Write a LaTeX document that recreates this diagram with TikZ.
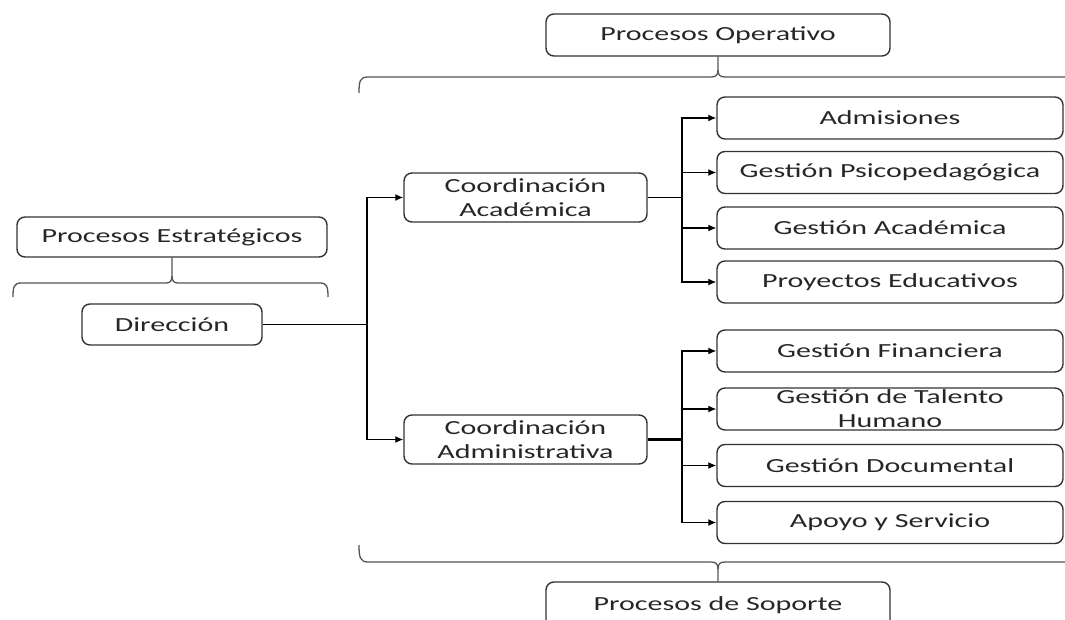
\documentclass[tikz,border=0pt]{standalone}
\usepackage{fontspec}
\setmainfont{Carlito}[FakeStretch=1.5]
\usetikzlibrary{arrows.meta}
\definecolor{boxline}{HTML}{333333}
\definecolor{txt}{HTML}{262626}
\definecolor{brace}{HTML}{555555}
\tikzset{
  box/.style={draw=boxline, line width=1.4pt, rounded corners=8pt, inner sep=0pt,
    minimum height=42pt, align=center, text=txt,
    font=\fontsize{20}{24}\selectfont},
  rbox/.style={box, minimum width=346pt},
  conn/.style={draw=black, line width=1.3pt},
  arr/.style={conn, -{Latex[length=8pt,width=7pt]}},
  bracel/.style={draw=brace, line width=1.3pt},
}
\begin{document}
\begin{tikzpicture}[x=1pt,y=-1pt]
\useasboundingbox (0,0) rectangle (1065,620);
\clip (0,0) rectangle (1065,620);
% nodes
\node[box, minimum width=344pt] (po) at (718,35) {Procesos Operativo};
\node[box, minimum width=310pt, minimum height=40pt] (pe) at (172,237) {Procesos Estratégicos};
\node[box, minimum width=180pt, minimum height=41pt] (dir) at (172,324.5) {Dirección};
\node[box, minimum width=243pt, minimum height=49pt] (ca) at (525.5,197.5) {Coordinación\\Académica};
\node[box, minimum width=243pt, minimum height=49pt] (cadm) at (525.5,439.5) {Coordinación\\Administrativa};
\node[rbox] (adm) at (890,118) {Admisiones};
\node[rbox] (gps) at (890,172.5) {Gestión Psicopedagógica};
\node[rbox] (gac) at (890,228) {Gestión Académica};
\node[rbox] (pro) at (890,282) {Proyectos Educativos};
\node[rbox] (gfi) at (890,351) {Gestión Financiera};
\node[rbox] (gth) at (890,409) {Gestión de Talento\\Humano};
\node[rbox] (gdo) at (890,465.5) {Gestión Documental};
\node[rbox] (apo) at (890,522.5) {Apoyo y Servicio};
\node[box, minimum width=344pt, minimum height=46pt] (ps) at (718,605) {Procesos de Soporte};
% junctions
\coordinate (j1) at (367,324.5);
\coordinate (j2) at (682,197.5);
\coordinate (j3) at (682,439.5);
% connectors
\draw[conn] (dir.east) -- (j1);
\draw[arr] (j1) |- (ca.west);
\draw[arr] (j1) |- (cadm.west);
\draw[conn] (ca.east) -- (j2);
\draw[conn, line width=2.4pt] (cadm.east) -- (j3);
\foreach \n in {adm,gps,gac,pro} \draw[arr] (j2) |- (\n.west);
\foreach \n in {gfi,gth,gdo,apo} \draw[arr] (j3) |- (\n.west);
% braces
\draw[bracel] (359,93) .. controls (359,81) and (360,77) .. (368,77) -- (711,77)
  .. controls (716,77) and (718,75) .. (718,70) -- (po.south);
\draw[bracel] (718,70) .. controls (718,75) and (720,77) .. (725,77) -- (1068,77)
  .. controls (1076,77) and (1077,81) .. (1077,93);
\draw[bracel] (13,297) .. controls (13,287) and (14,283) .. (21,283) -- (166,283)
  .. controls (170,283) and (172,281) .. (172,276) -- (pe.south);
\draw[bracel] (172,276) .. controls (172,281) and (174,283) .. (178,283) -- (320,283)
  .. controls (327,283) and (328,287) .. (328,297);
\draw[bracel] (359,545) .. controls (359,557) and (360,562) .. (368,562) -- (711,562)
  .. controls (716,562) and (718,564) .. (718,569) -- (ps.north);
\draw[bracel] (718,569) .. controls (718,564) and (720,562) .. (725,562) -- (1068,562)
  .. controls (1076,562) and (1077,557) .. (1077,545);
\end{tikzpicture}
\end{document}
